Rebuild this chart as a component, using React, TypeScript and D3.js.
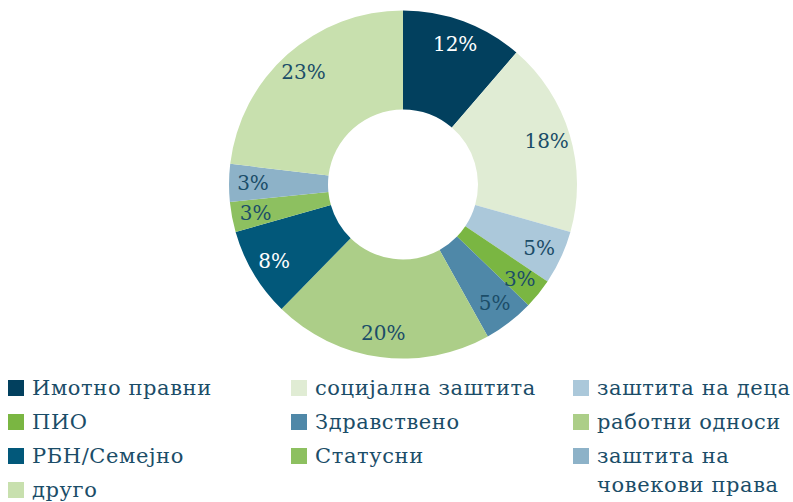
import React from "react";
import * as d3 from "d3";

const categories = [
  "Имотно правни",
  "социјална заштита",
  "заштита на деца",
  "ПИО",
  "Здравствено",
  "работни односи",
  "РБН/Семејно",
  "Статусни",
  "заштита на\nчовекови права",
  "друго",
];
const values = [11.3, 18.1, 5.0, 2.8, 4.7, 20.4, 8.3, 2.8, 3.5, 23.1];
const labels = ["12%", "18%", "5%", "3%", "5%", "20%", "8%", "3%", "3%", "23%"];
const colors = [
  "#02405e",
  "#e0ecd4",
  "#abc8da",
  "#7ab642",
  "#4f88a8",
  "#acce88",
  "#02587a",
  "#8dc060",
  "#8db2c8",
  "#c8e0ae",
];
const labelColors = [
  "#ffffff",
  "#1b4d68",
  "#1b4d68",
  "#1b4d68",
  "#1b4d68",
  "#1b4d68",
  "#ffffff",
  "#1b4d68",
  "#1b4d68",
  "#1b4d68",
];

const W = 793;
const H = 502;
const cx = 403;
const cy = 184.5;
const R = 174;
const r0 = 75;
const FONT = "'DejaVu Serif', serif";

export default function App() {
  const pie = d3.pie<number>().sort(null).value((d) => d)(values);
  const arc = d3.arc<d3.PieArcDatum<number>>().innerRadius(r0).outerRadius(R);
  const labelArc = d3.arc<d3.PieArcDatum<number>>().innerRadius(150).outerRadius(150);

  const colX = [8, 291, 573];
  const rowY = d3.scaleLinear().domain([0, 1]).range([388, 422]);

  return (
    <svg
      width={W}
      height={H}
      style={{ position: "absolute", left: 0, top: 0, display: "block" }}
    >
      <rect width={W} height={H} fill="#fff" />
      <g transform={`translate(${cx},${cy})`}>
        {pie.map((p, i) => (
          <path key={i} d={arc(p) || ""} fill={colors[i]} />
        ))}
        {pie.map((p, i) => {
          const [x, y] = labelArc.centroid(p);
          return (
            <text
              key={i}
              x={x}
              y={y}
              textAnchor="middle"
              dominantBaseline="central"
              fontFamily={FONT}
              fontSize={20}
              fill={labelColors[i]}
            >
              {labels[i]}
            </text>
          );
        })}
      </g>
      <g>
        {categories.map((c, i) => {
          const col = i % 3;
          const row = Math.floor(i / 3);
          const y = rowY(row);
          const lines = c.split("\n");
          return (
            <g key={i}>
              <rect x={colX[col]} y={y - 8} width={16} height={16} fill={colors[i]} />
              <text
                x={colX[col] + 24}
                y={y}
                fontFamily={FONT}
                fontSize={21}
                letterSpacing={0.6}
                fill="#1b4d68"
              >
                {lines.map((l, k) => (
                  <tspan key={k} x={colX[col] + 24} dy={k === 0 ? "0.35em" : 29}>
                    {l}
                  </tspan>
                ))}
              </text>
            </g>
          );
        })}
      </g>
    </svg>
  );
}
